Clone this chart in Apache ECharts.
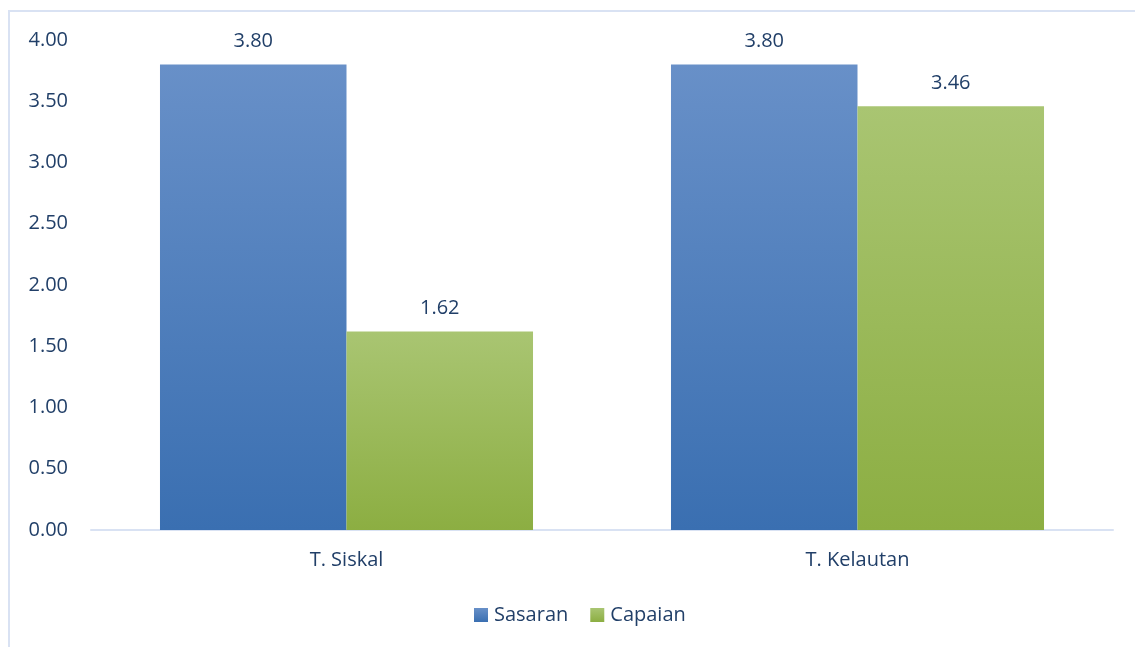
<!DOCTYPE html>
<html>
<head>
<meta charset="utf-8">
<script src="https://cdn.jsdelivr.net/npm/echarts@6/dist/echarts.min.js"></script>
<style>
  html, body { margin: 0; padding: 0; background: #fff; }
  .frame {
    position: absolute;
    left: 8px;
    top: 10px;
    width: 1140px;
    height: 650px;
    border: 2px solid #d9e2f3;
    box-sizing: border-box;
  }
  #chart { position: absolute; left: 0; top: 0; width: 1135px; height: 647px; }
</style>
</head>
<body>
<div class="frame"></div>
<div id="chart"></div>
<script>
const categories = ['T. Siskal', 'T. Kelautan']
const sasaran = [3.80, 3.80]
const capaian = [1.62, 3.46]
const yTicks = { min: 0, max: 4, interval: 0.5 }

const textColor = '#213f68'
const fontFamily = '"Open Sans", "Noto Sans", sans-serif'
const fontSize = 20

const chart = echarts.init(document.getElementById('chart'))

function grad(top, bottom) {
  return new echarts.graphic.LinearGradient(0, 0, 0, 1, [
    { offset: 0, color: top },
    { offset: 1, color: bottom }
  ])
}

const labelStyle = {
  show: true,
  position: 'top',
  distance: 13,
  color: textColor,
  fontSize: fontSize,
  fontFamily: fontFamily,
  formatter: p => p.value.toFixed(2)
}

chart.setOption({
  animation: false,
  textStyle: { fontFamily: fontFamily },
  grid: {
    left: 91,
    right: 22,
    top: 40,
    bottom: 117
  },
  legend: {
    bottom: 17,
    left: 469,
    itemWidth: 14,
    itemHeight: 14,
    itemGap: 22,
    icon: 'rect',
    textStyle: { color: textColor, fontSize: fontSize, fontFamily: fontFamily, padding: [0, 0, 0, 1] }
  },
  xAxis: {
    type: 'category',
    data: categories,
    axisLine: { lineStyle: { color: '#d9e2f3', width: 2 } },
    axisTick: { show: false },
    axisLabel: { color: textColor, fontSize: fontSize, margin: 20, fontFamily: fontFamily }
  },
  yAxis: {
    type: 'value',
    min: yTicks.min,
    max: yTicks.max,
    interval: yTicks.interval,
    axisLine: { show: false },
    axisTick: { show: false },
    splitLine: { show: false },
    axisLabel: {
      color: textColor,
      fontSize: fontSize,
      margin: 23,
      fontFamily: fontFamily,
      formatter: v => v.toFixed(2)
    }
  },
  series: [
    {
      name: 'Sasaran',
      type: 'bar',
      data: sasaran,
      barGap: '0%',
      barCategoryGap: '27%',
      itemStyle: { color: grad('#6890c8', '#3a6fb1') },
      label: labelStyle
    },
    {
      name: 'Capaian',
      type: 'bar',
      data: capaian,
      itemStyle: { color: grad('#a9c572', '#8cae42') },
      label: labelStyle
    }
  ]
})
</script>
</body>
</html>
